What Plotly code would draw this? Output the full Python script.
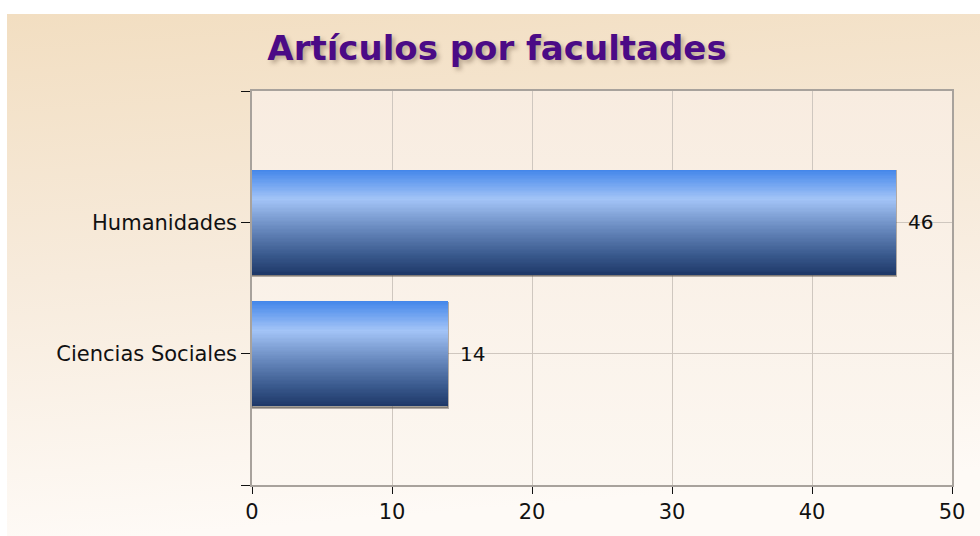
import plotly.graph_objects as go

# ---- data ----
categories = ["Ciencias Sociales", "Humanidades"]
values = [14, 46]
x_ticks = [0, 10, 20, 30, 40, 50]
title_text = "Artículos por facultades"

# ---- style helpers ----
def hex_to_rgb(h):
    h = h.lstrip("#")
    return tuple(int(h[i:i + 2], 16) for i in (0, 2, 4))

stops = [(0.0, "#4386EA"), (0.28, "#A3C4F7"), (0.55, "#6A8BC0"), (0.8, "#3B5B8F"), (1.0, "#1E3868")]

def grad_color(t):
    for (t0, c0), (t1, c1) in zip(stops[:-1], stops[1:]):
        if t0 <= t <= t1:
            f = (t - t0) / (t1 - t0) if t1 > t0 else 0
            a, b = hex_to_rgb(c0), hex_to_rgb(c1)
            return "rgb(%d,%d,%d)" % tuple(round(a[k] + (b[k] - a[k]) * f) for k in range(3))
    return stops[-1][1]

positions = list(range(len(categories)))
bar_width = 0.8
n_slices = 80
slice_w = bar_width / n_slices

fig = go.Figure()
# soft shadow under the bars (right/bottom edge)
fig.add_trace(go.Bar(
    x=values, y=positions, orientation="h",
    width=bar_width, offset=-bar_width / 2 - 0.012,
    marker=dict(color="rgba(90,85,80,0.55)", line=dict(width=2, color="rgba(90,85,80,0.45)")),
    hoverinfo="skip", showlegend=False,
))
for i in range(n_slices):
    # i = 0 is the top slice
    t = (i + 0.5) / n_slices
    off = bar_width / 2 - (i + 1) * slice_w
    fig.add_trace(go.Bar(
        x=values, y=positions, orientation="h",
        width=slice_w * 2.0, offset=off - (slice_w if i < n_slices - 1 else 0),
        marker=dict(color=grad_color(t), line=dict(width=0)),
        hoverinfo="skip", showlegend=False,
    ))

for v, p in zip(values, positions):
    fig.add_annotation(x=v, y=p, text=str(v), showarrow=False,
                       xanchor="left", yanchor="middle", xshift=10,
                       font=dict(family="DejaVu Sans", size=20, color="#111111"))

outer_svg = ("data:image/svg+xml;utf8,<svg xmlns='http://www.w3.org/2000/svg' width='100' height='100' preserveAspectRatio='none'>"
             "<defs><linearGradient id='g' x1='0' y1='0' x2='0.15' y2='1'>"
             "<stop offset='0' stop-color='%23F2DEC1'/><stop offset='0.5' stop-color='%23F7EBDC'/>"
             "<stop offset='1' stop-color='%23FEFAF6'/></linearGradient></defs>"
             "<rect width='100' height='100' fill='url(%23g)'/></svg>")
inner_svg = ("data:image/svg+xml;utf8,<svg xmlns='http://www.w3.org/2000/svg' width='100' height='100' preserveAspectRatio='none'>"
             "<defs><linearGradient id='g' x1='0' y1='0' x2='0' y2='1'>"
             "<stop offset='0' stop-color='%23F8ECE0'/><stop offset='1' stop-color='%23FCF7F1'/></linearGradient></defs>"
             "<rect width='100' height='100' fill='url(%23g)'/></svg>")

L, R, T, B = 252, 28, 91, 51
W, H = 980, 536
pw, ph = W - L - R, H - T - B

fig.update_layout(
    width=W, height=H,
    margin=dict(l=L, r=R, t=T, b=B),
    paper_bgcolor="white",
    plot_bgcolor="rgba(0,0,0,0)",
    barmode="overlay",
    bargap=0,
    showlegend=False,
    title=dict(text=title_text, x=497 / W, y=1 - 48 / H, xanchor="center", yanchor="middle",
               xref="container", yref="container",
               font=dict(family="DejaVu Sans", size=34, color="#4B0B86", weight="bold",
                         shadow="3px 3px 4px rgba(120,100,80,0.45)")),
    images=[
        dict(source=outer_svg, xref="paper", yref="paper",
             x=(7 - L) / pw, y=(H - B - 14) / ph,
             sizex=(W - 7) / pw, sizey=(H - 14) / ph,
             xanchor="left", yanchor="top", sizing="stretch", layer="below"),
        dict(source=inner_svg, xref="paper", yref="paper",
             x=0, y=1, sizex=1, sizey=1,
             xanchor="left", yanchor="top", sizing="stretch", layer="below"),
    ],
    xaxis=dict(range=[0, 50], tickvals=x_ticks, ticks="outside", ticklen=7, tickcolor="#111111",
               showgrid=True, gridcolor="#CFC7BF", gridwidth=1,
               showline=True, linecolor="#A8A29C", linewidth=1.5, mirror=True,
               zeroline=False,
               tickfont=dict(family="DejaVu Sans", size=21, color="#111111")),
    yaxis=dict(range=[-1, 2], tickvals=[-1] + positions + [2], ticktext=[""] + categories + [""],
               ticks="outside", ticklen=9, tickcolor="#111111",
               showgrid=True, gridcolor="#CFC7BF", gridwidth=1,
               showline=True, linecolor="#A8A29C", linewidth=1.5, mirror=True,
               zeroline=False,
               tickfont=dict(family="DejaVu Sans", size=21, color="#111111")),
)

fig.write_html("out.html", config={"displayModeBar": False},
               post_script="document.body.style.margin='0';")
